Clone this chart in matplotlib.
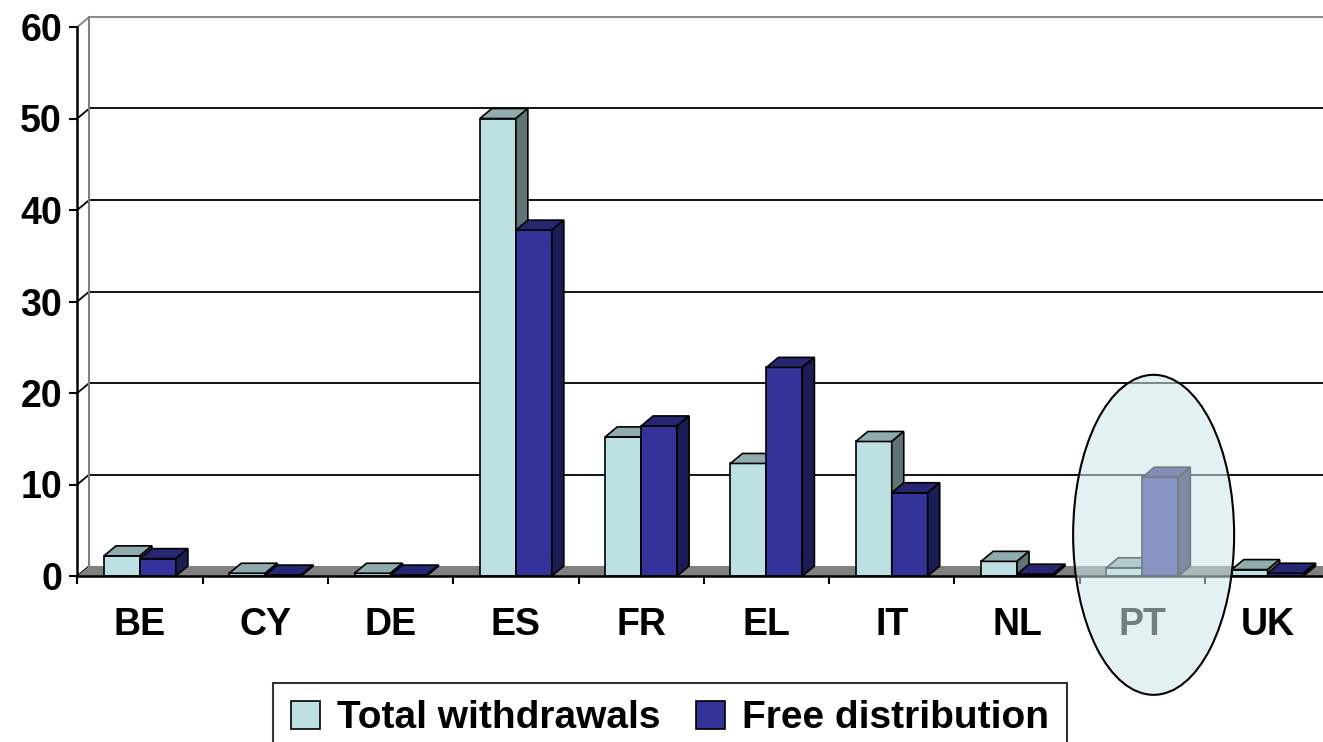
import matplotlib
matplotlib.use("Agg")
import matplotlib.pyplot as plt
from matplotlib.patches import Polygon, Patch, Ellipse

countries = ['BE', 'CY', 'DE', 'ES', 'FR', 'EL', 'IT', 'NL', 'PT', 'UK']
total_withdrawals = [2.2, 0.3, 0.3, 50.0, 15.2, 12.3, 14.7, 1.6, 0.9, 0.7]
free_distribution = [1.9, 0.1, 0.1, 37.8, 16.4, 22.8, 9.1, 0.2, 10.8, 0.3]
y_ticks = [0, 10, 20, 30, 40, 50, 60]
series_names = ['Total withdrawals', 'Free distribution']

# colours: front, top, side
light = ('#BDE0E3', '#8FABAE', '#607475')
dark = ('#333399', '#262673', '#1C1C55')

W, H = 1323, 742
fig = plt.figure(figsize=(W / 100, H / 100), dpi=100)
ax = fig.add_axes([77.3 / W, (H - 576) / H, 1253 / W, 549 / H])
ax.set_xlim(0, len(countries))
ax.set_ylim(0, 60)

# fake depth of the excel 3d look, in data units
dx = 12 / 125.3
dy = 10 / 9.15
bw = 0.287

# back wall gridlines and floor
n = len(countries)
for v in y_ticks:
    col = '#808080' if v == y_ticks[-1] else 'black'
    if v > 0:
        ax.plot([dx, n + dx + 1], [v + dy, v + dy], color=col, lw=1.3, zorder=1, clip_on=False)
    ax.plot([0, dx], [v, v + dy], color=col, lw=1.3, zorder=1, clip_on=False)
ax.plot([dx, dx], [dy, y_ticks[-1] + dy], color='#808080', lw=1.5, zorder=1, clip_on=False)
ax.add_patch(Polygon([(0, 0), (n + 1, 0), (n + 1 + dx, dy), (dx, dy)], closed=True,
                     facecolor='#808080', edgecolor='none', zorder=1.2, clip_on=False))


def bar3d(x0, h, cols, z):
    front, top, side = cols
    ax.bar(x0, h, bw, align='edge', color=front, edgecolor='black', lw=1.2, zorder=z)
    ax.add_patch(Polygon([(x0, h), (x0 + bw, h), (x0 + bw + dx, h + dy), (x0 + dx, h + dy)],
                         closed=True, facecolor=top, edgecolor='black', lw=1.2, zorder=z))
    ax.add_patch(Polygon([(x0 + bw, 0), (x0 + bw + dx, dy), (x0 + bw + dx, h + dy), (x0 + bw, h)],
                         closed=True, facecolor=side, edgecolor='black', lw=1.2, zorder=z))


for i in range(n):
    c = i + 0.5
    bar3d(c - bw, total_withdrawals[i], light, 3 + 2 * i)
    bar3d(c, free_distribution[i], dark, 4 + 2 * i)

# axes styling
for s in ['top', 'right']:
    ax.spines[s].set_visible(False)
ax.spines['left'].set_linewidth(1.8)
ax.spines['bottom'].set_linewidth(1.8)
ax.spines['bottom'].set_bounds(0, n + 1)
ax.spines['left'].set_zorder(30)
ax.spines['bottom'].set_zorder(30)

ax.set_yticks(y_ticks)
ax.set_yticklabels([str(v) for v in y_ticks], fontsize=27, fontweight='bold',
                   family='Liberation Sans')
ax.tick_params(axis='y', length=6, width=1.5, pad=5)

ax.set_xticks(range(n + 1))
ax.set_xticklabels([])
ax.tick_params(axis='x', which='major', length=6, width=1.5)
ax.set_xticks([i + 0.5 for i in range(n)], minor=True)
ax.set_xticklabels(countries, minor=True, fontsize=27, fontweight='bold',
                   family='Liberation Sans')
ax.tick_params(axis='x', which='minor', length=0, pad=22)

# highlight around PT
pt = countries.index('PT')
ax.add_patch(Ellipse((pt + 0.5 + 0.09, 4.5), 161 / 125.3, 320 / 9.15, facecolor='#CFE6E8',
                     alpha=0.55, edgecolor='none', zorder=40, clip_on=False))
ax.add_patch(Ellipse((pt + 0.5 + 0.09, 4.5), 161 / 125.3, 320 / 9.15, facecolor='none',
                     edgecolor='black', lw=1.5, zorder=41, clip_on=False))

handles = [Patch(facecolor=light[0], edgecolor='black', lw=1.2),
           Patch(facecolor=dark[0], edgecolor='black', lw=1.2)]
leg = fig.legend(handles, series_names, loc='upper left', bbox_to_anchor=(273 / W, 1 - 683 / H),
                 ncol=2, frameon=True, fancybox=False, edgecolor='black',
                 prop={'family': 'Liberation Sans', 'weight': 'bold', 'size': 28},
                 handlelength=0.75, handleheight=0.7, handletextpad=0.45, columnspacing=0.9,
                 borderpad=0.45, borderaxespad=0)
leg.get_frame().set_linewidth(1.5)

fig.savefig('out.png', dpi=100)
